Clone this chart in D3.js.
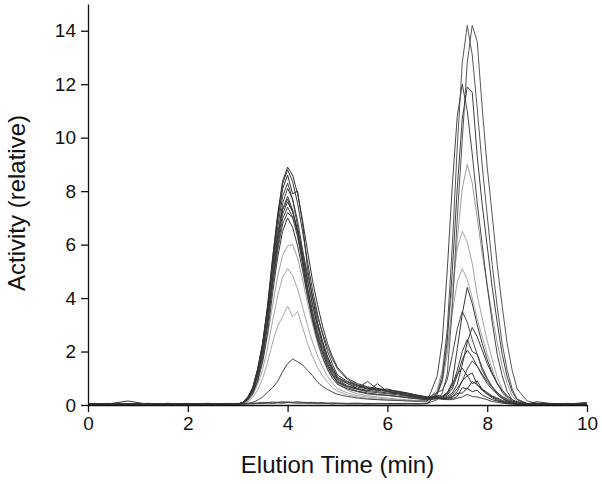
<!DOCTYPE html>
<html lang="en">
<head>
<meta charset="UTF-8">
<title>elution</title>
<script src="https://cdn.jsdelivr.net/npm/d3@7"></script>
<style>
  body { margin: 0; background: #fff; }
  svg { font-family: "Liberation Sans", Arial, sans-serif; }
</style>
</head>
<body>
<script>
// elution times (min) shared by all runs
let times = [0, 0.4, 0.8, 1.2, 1.6, 2.0, 2.4, 2.8,
  3.0, 3.1, 3.2, 3.3, 3.4, 3.5, 3.6, 3.7, 3.8, 3.9, 4.0, 4.1, 4.2, 4.3, 4.4, 4.5, 4.6, 4.7, 4.8, 4.9, 5.0,
  5.2, 5.4, 5.6, 5.8, 6.0, 6.2, 6.4, 6.6, 6.8, 7.0,
  7.1, 7.2, 7.3, 7.4, 7.5, 7.6, 7.7, 7.8, 7.9, 8.0, 8.1, 8.2, 8.3, 8.4, 8.5, 8.6,
  8.8, 9.0, 9.3, 9.6, 10];

// activity (relative), one array per run
let run01 = [0.03, 0.05, 0.02, 0.04, 0.03, 0.05, 0.02, 0.04,
  0.04, 0.03, 0.05, 0.04, 0.06, 0.05, 0.07, 0.06, 0.08, 0.07, 0.09, 0.08, 0.07, 0.08, 0.06, 0.07, 0.05, 0.06, 0.05, 0.04, 0.05,
  0.04, 0.05, 0.03, 0.04, 0.05, 0.03, 0.04, 0.05, 0.06, 0.2,
  0.45, 1.15, 3.6, 7.0, 9.9, 12.8, 14.2, 13.6, 11.1, 8.9, 7.1, 5.25, 3.7, 2.3, 1.3, 0.6,
  0.15, 0.06, 0.04, 0.05, 0.03];
let run02 = [0.05, 0.03, 0.04, 0.06, 0.03, 0.04, 0.05, 0.03,
  0.05, 0.06, 0.04, 0.07, 0.05, 0.06, 0.08, 0.07, 0.09, 0.08, 0.1, 0.09, 0.08, 0.07, 0.08, 0.06, 0.07, 0.05, 0.06, 0.05, 0.06,
  0.05, 0.04, 0.06, 0.05, 0.04, 0.05, 0.06, 0.05, 0.07, 0.45,
  1.15, 2.85, 5.95, 9.65, 12.8, 14.2, 13.1, 11.1, 8.95, 7.1, 5.25, 3.7, 2.3, 1.3, 0.6, 0.22,
  0.06, 0.04, 0.05, 0.03, 0.04];
let run03 = [0.04, 0.02, 0.05, 0.03, 0.04, 0.02, 0.05, 0.03,
  0.02, 0.03, 0.05, 0.1, 0.18, 0.3, 0.48, 0.65, 0.88, 1.25, 1.55, 1.72, 1.62, 1.5, 1.3, 1.1, 0.85, 0.7, 0.58, 0.48, 0.4,
  0.32, 0.26, 0.22, 0.2, 0.18, 0.17, 0.15, 0.14, 0.15, 1.1,
  2.4, 5.05, 8.2, 10.8, 12.0, 11.0, 9.4, 7.55, 6.0, 4.45, 3.1, 1.9, 1.1, 0.5, 0.2, 0.08,
  0.04, 0.05, 0.03, 0.04, 0.05];
let run04 = [0.02, 0.04, 0.03, 0.05, 0.04, 0.03, 0.04, 0.05,
  0.06, 0.05, 0.07, 0.06, 0.08, 0.1, 0.09, 0.11, 0.1, 0.12, 0.11, 0.1, 0.12, 0.1, 0.09, 0.1, 0.08, 0.09, 0.07, 0.08, 0.07,
  0.06, 0.07, 0.05, 0.06, 0.05, 0.06, 0.05, 0.04, 0.05, 0.4,
  0.95, 2.4, 5.0, 8.1, 10.7, 11.9, 11.7, 9.3, 7.5, 5.95, 4.4, 3.1, 1.9, 1.05, 0.5, 0.2,
  0.05, 0.03, 0.04, 0.05, 0.03];
let run05 = [0.03, 0.04, 0.02, 0.05, 0.03, 0.04, 0.03, 0.05,
  0.03, 0.08, 0.2, 0.45, 0.95, 1.65, 2.6, 3.75, 4.8, 5.6, 5.95, 6.0, 5.5, 4.7, 3.8, 3.0, 2.3, 1.75, 1.3, 1.0, 0.78,
  0.55, 0.42, 0.35, 0.3, 0.26, 0.22, 0.19, 0.17, 0.15, 0.42,
  0.85, 1.9, 3.85, 6.2, 8.1, 9.0, 8.3, 7.0, 5.65, 4.5, 3.35, 2.35, 1.45, 0.8, 0.35, 0.14,
  0.05, 0.03, 0.04, 0.03, 0.04];
let run06 = [0.04, 0.03, 0.05, 0.02, 0.04, 0.03, 0.05, 0.04,
  0.03, 0.05, 0.15, 0.36, 0.77, 1.33, 2.14, 3.16, 4.08, 4.79, 5.1, 4.85, 4.34, 3.67, 2.96, 2.35, 1.84, 1.43, 1.07, 0.82, 0.61,
  0.45, 0.35, 0.3, 0.26, 0.22, 0.2, 0.18, 0.16, 0.15, 0.6,
  1.3, 2.75, 4.4, 5.85, 6.5, 6.1, 5.3, 4.1, 3.25, 2.4, 1.7, 1.05, 0.6, 0.26, 0.1, 0.04,
  0.04, 0.05, 0.03, 0.04, 0.03];
let run07 = [0.03, 0.05, 0.04, 0.03, 0.05, 0.04, 0.03, 0.04,
  0.02, 0.05, 0.12, 0.28, 0.56, 0.98, 1.6, 2.35, 2.95, 3.3, 3.7, 3.3, 3.5, 2.9, 2.3, 1.8, 1.4, 1.1, 0.85, 0.65, 0.52,
  0.38, 0.3, 0.25, 0.22, 0.2, 0.18, 0.16, 0.15, 0.14, 0.5,
  1.0, 2.15, 3.45, 4.6, 5.1, 4.7, 4.0, 3.2, 2.55, 1.9, 1.35, 0.82, 0.46, 0.2, 0.08, 0.04,
  0.03, 0.04, 0.05, 0.03, 0.04];
let run08 = [0.05, 0.04, 0.03, 0.05, 0.04, 0.06, 0.04, 0.05,
  0.04, 0.07, 0.21, 0.49, 0.9, 1.6, 2.7, 4.2, 5.5, 6.5, 7.0, 6.65, 5.95, 5.04, 4.06, 3.22, 2.52, 1.96, 1.47, 1.12, 0.84,
  0.65, 0.52, 0.45, 0.4, 0.36, 0.32, 0.27, 0.23, 0.2, 0.28,
  0.3, 0.45, 0.85, 2.1, 3.4, 4.4, 3.8, 3.0, 2.3, 1.7, 1.2, 0.8, 0.5, 0.3, 0.15, 0.08,
  0.04, 0.05, 0.03, 0.04, 0.05];
let run09 = [0.04, 0.06, 0.03, 0.04, 0.05, 0.03, 0.04, 0.06,
  0.03, 0.07, 0.22, 0.5, 1.08, 1.87, 3.02, 4.46, 5.76, 6.77, 7.2, 7.0, 6.5, 5.75, 4.9, 4.05, 3.3, 2.7, 2.15, 1.7, 1.35,
  0.95, 0.75, 0.6, 0.62, 0.52, 0.44, 0.36, 0.3, 0.24, 0.48,
  0.55, 0.95, 1.85, 2.85, 3.5, 3.1, 2.45, 1.9, 1.4, 1.0, 0.67, 0.43, 0.24, 0.14, 0.07, 0.03,
  0.05, 0.03, 0.04, 0.06, 0.04];
let run10 = [0.03, 0.04, 0.05, 0.03, 0.06, 0.04, 0.05, 0.03,
  0.03, 0.08, 0.23, 0.53, 1.14, 1.98, 3.19, 4.71, 6.08, 7.14, 7.6, 7.22, 6.55, 5.65, 4.65, 3.75, 3.0, 2.35, 1.8, 1.38, 1.05,
  0.8, 0.62, 0.55, 0.5, 0.45, 0.42, 0.35, 0.28, 0.24, 0.25,
  0.26, 0.33, 0.45, 0.78, 1.5, 2.35, 2.9, 2.55, 2.05, 1.55, 1.15, 0.82, 0.55, 0.35, 0.2, 0.12,
  0.05, 0.04, 0.03, 0.05, 0.04];
let run11 = [0.04, 0.03, 0.05, 0.04, 0.03, 0.05, 0.06, 0.04,
  0.04, 0.1, 0.3, 0.65, 1.35, 2.3, 3.6, 5.1, 6.4, 7.3, 7.7, 7.25, 6.5, 5.5, 4.4, 3.5, 2.75, 2.15, 1.62, 1.25, 0.95,
  0.72, 0.62, 0.88, 0.6, 0.5, 0.45, 0.35, 0.3, 0.25, 0.28,
  0.32, 0.42, 0.7, 1.3, 2.0, 2.45, 2.0, 1.9, 1.3, 0.96, 0.69, 0.47, 0.29, 0.17, 0.1, 0.05,
  0.04, 0.06, 0.03, 0.05, 0.04];
let run12 = [0.05, 0.04, 0.03, 0.05, 0.04, 0.03, 0.05, 0.04,
  0.03, 0.08, 0.23, 0.55, 1.17, 2.03, 3.28, 4.84, 6.24, 7.33, 7.8, 7.3, 6.4, 5.25, 4.1, 3.15, 2.4, 1.8, 1.35, 1.0, 0.78,
  0.6, 0.5, 0.42, 0.38, 0.36, 0.32, 0.28, 0.24, 0.2, 0.24,
  0.3, 0.38, 0.6, 1.1, 1.7, 2.05, 1.8, 1.45, 1.1, 0.8, 0.58, 0.4, 0.25, 0.15, 0.09, 0.05,
  0.03, 0.05, 0.04, 0.03, 0.05];
let run13 = [0.04, 0.05, 0.04, 0.03, 0.05, 0.04, 0.06, 0.04,
  0.03, 0.06, 0.18, 0.4, 0.9, 1.8, 3.0, 4.6, 6.3, 7.55, 8.1, 7.7, 6.89, 5.83, 4.7, 3.73, 2.92, 2.27, 1.7, 1.3, 0.97,
  0.8, 0.68, 0.6, 0.55, 0.5, 0.46, 0.4, 0.32, 0.26, 0.27,
  0.23, 0.26, 0.32, 0.5, 0.9, 1.35, 1.65, 1.45, 1.15, 0.88, 0.65, 0.47, 0.32, 0.21, 0.13, 0.08,
  0.05, 0.04, 0.05, 0.03, 0.04];
let run14 = [0.05, 0.03, 0.04, 0.05, 0.03, 0.04, 0.05, 0.04,
  0.04, 0.09, 0.25, 0.58, 1.25, 2.16, 3.49, 5.15, 6.64, 7.8, 8.3, 7.7, 6.7, 5.5, 4.3, 3.3, 2.55, 1.95, 1.45, 1.1, 0.85,
  0.7, 0.6, 0.52, 0.8, 0.5, 0.44, 0.37, 0.31, 0.26, 0.36,
  0.33, 0.47, 0.78, 1.15, 1.38, 1.1, 1.2, 0.75, 0.55, 0.4, 0.27, 0.18, 0.11, 0.07, 0.04, 0.03,
  0.04, 0.03, 0.05, 0.04, 0.06];
let run15 = [0.03, 0.05, 0.04, 0.06, 0.04, 0.03, 0.05, 0.04,
  0.03, 0.09, 0.26, 0.6, 1.29, 2.24, 3.61, 5.33, 6.88, 8.08, 8.6, 7.9, 8.0, 6.8, 5.1, 4.0, 3.1, 2.4, 1.8, 1.38, 1.03,
  0.85, 0.72, 0.62, 0.56, 0.6, 0.5, 0.42, 0.35, 0.28, 0.3,
  0.25, 0.28, 0.38, 0.62, 0.9, 1.1, 0.8, 0.9, 0.58, 0.43, 0.31, 0.22, 0.14, 0.09, 0.06, 0.04,
  0.05, 0.04, 0.03, 0.05, 0.04];
let run16 = [0.04, 0.03, 0.05, 0.04, 0.05, 0.03, 0.04, 0.05,
  0.03, 0.09, 0.26, 0.62, 1.32, 2.29, 3.7, 5.46, 7.04, 8.27, 8.8, 8.36, 7.55, 6.5, 5.35, 4.3, 3.4, 2.65, 2.0, 1.52, 1.12,
  0.88, 0.75, 0.65, 0.58, 0.54, 0.52, 0.45, 0.36, 0.3, 0.31,
  0.22, 0.22, 0.24, 0.32, 0.65, 0.6, 0.88, 0.76, 0.6, 0.47, 0.34, 0.26, 0.17, 0.12, 0.08, 0.05,
  0.04, 0.05, 0.03, 0.04, 0.03];
let run17 = [0.05, 0.04, 0.15, 0.03, 0.04, 0.05, 0.04, 0.03,
  0.03, 0.09, 0.27, 0.62, 1.34, 2.31, 3.74, 5.52, 7.12, 8.37, 8.9, 8.6, 7.9, 6.9, 5.75, 4.65, 3.75, 2.95, 2.3, 1.8, 1.4,
  1.0, 0.8, 0.68, 0.62, 0.56, 0.5, 0.44, 0.37, 0.3, 0.31,
  0.23, 0.24, 0.29, 0.43, 0.45, 0.62, 0.5, 0.55, 0.37, 0.28, 0.2, 0.15, 0.1, 0.07, 0.05, 0.04,
  0.04, 0.12, 0.05, 0.04, 0.03];
let run18 = [0.04, 0.05, 0.03, 0.04, 0.06, 0.04, 0.03, 0.05,
  0.04, 0.07, 0.22, 0.52, 1.11, 1.92, 3.11, 4.59, 5.92, 6.96, 7.4, 7.03, 6.29, 5.33, 4.29, 3.4, 2.66, 2.07, 1.55, 1.18, 0.89,
  0.7, 0.58, 0.5, 0.46, 0.42, 0.38, 0.32, 0.27, 0.22, 0.23,
  0.22, 0.2, 0.2, 0.25, 0.3, 0.4, 0.32, 0.3, 0.25, 0.2, 0.13, 0.1, 0.07, 0.05, 0.04, 0.03,
  0.05, 0.04, 0.06, 0.03, 0.1];

let runs = [run01, run02, run03, run04, run05, run06, run07, run08, run09,
  run10, run11, run12, run13, run14, run15, run16, run17, run18];

let xMajor = [0, 2, 4, 6, 8, 10];
let xMinor = [1, 3, 5, 7, 9];
let yMajor = [0, 2, 4, 6, 8, 10, 12, 14];
let yMinor = [1, 3, 5, 7, 9, 11, 13];

// line shade per run (drawing only)
let shade = ['#585858', '#585858', '#474747', '#3e3e3e', '#9c9c9c', '#a6a6a6', '#a6a6a6',
  '#3a3a3a', '#4a4a4a', '#3a3a3a', '#444', '#3a3a3a', '#444', '#3a3a3a', '#333', '#3a3a3a', '#333', '#444'];

let width = 602;
let height = 484;

let x = d3.scaleLinear()
  .domain([0, 10])
  .range([88, 587]);
let y = d3.scaleLinear()
  .domain([0, 15])
  .range([405, 4]);

let svg = d3.select('body').append('svg')
  .attr('width', width)
  .attr('height', height);

let line = d3.line()
  .x(function (d, i) { return x(times[i]); })
  .y(function (d) { return y(d); });

// light runs first so the dark ones sit on top
let order = d3.range(runs.length).sort(function (a, b) {
  return d3.color(shade[b]).r - d3.color(shade[a]).r;
});

svg.append('g')
  .selectAll('path')
  .data(order)
  .enter()
  .append('path')
  .attr('fill', 'none')
  .attr('stroke', function (i) { return shade[i]; })
  .attr('stroke-width', 1)
  .attr('stroke-linejoin', 'round')
  .attr('d', function (i) { return line(runs[i]); });

renderAxes();

function renderAxes() {
  let xAxis = d3.axisBottom(x).tickValues(xMajor).tickSize(7).tickSizeOuter(0).tickPadding(5);
  let xAxisMinor = d3.axisBottom(x).tickValues(xMinor).tickSize(4).tickSizeOuter(0).tickFormat('');
  let yAxis = d3.axisLeft(y).tickValues(yMajor).tickSize(7).tickSizeOuter(0).tickPadding(5);
  let yAxisMinor = d3.axisLeft(y).tickValues(yMinor).tickSize(4).tickSizeOuter(0).tickFormat('');

  let gx = svg.append('g').attr('transform', 'translate(0,' + y(0) + ')');
  gx.call(xAxisMinor);
  gx.call(xAxis);

  let gy = svg.append('g').attr('transform', 'translate(' + x(0) + ',0)');
  gy.call(yAxisMinor);
  gy.call(yAxis);

  svg.selectAll('.domain, .tick line')
    .attr('stroke', '#111')
    .attr('stroke-width', 1.3);
  svg.selectAll('.tick text')
    .attr('fill', '#111')
    .style('font-size', '19px')
    .style('font-family', '"Liberation Sans", Arial, sans-serif');

  svg.append('text')
    .attr('x', (x(0) + x(10)) / 2)
    .attr('y', 473)
    .attr('text-anchor', 'middle')
    .attr('fill', '#111')
    .style('font-size', '24px')
    .text('Elution Time (min)');

  svg.append('text')
    .attr('transform', 'translate(25,' + 203 + ') rotate(-90)')
    .attr('text-anchor', 'middle')
    .attr('fill', '#111')
    .style('font-size', '24px')
    .text('Activity (relative)');
}
</script>
</body>
</html>
